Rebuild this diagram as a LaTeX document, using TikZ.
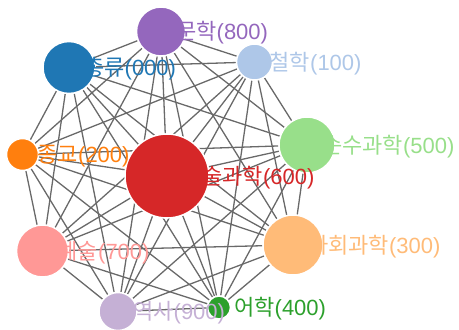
\documentclass[tikz,border=0pt]{standalone}
\usepackage{fontspec}
\setmainfont{Liberation Sans}
\newfontfamily\kr{Noto Sans CJK KR}
\usetikzlibrary{backgrounds}
\definecolor{c0}{HTML}{1F77B4}
\definecolor{c1}{HTML}{AEC7E8}
\definecolor{c2}{HTML}{FF7F0E}
\definecolor{c3}{HTML}{FFBB78}
\definecolor{c4}{HTML}{2CA02C}
\definecolor{c5}{HTML}{98DF8A}
\definecolor{c6}{HTML}{D62728}
\definecolor{c7}{HTML}{FF9896}
\definecolor{c8}{HTML}{9467BD}
\definecolor{c9}{HTML}{C5B0D5}
\definecolor{edgegray}{RGB}{105,105,105}
\begin{document}
\begin{tikzpicture}[x=1pt,y=-1pt,
  dot/.style={circle, draw=white, line width=1.5pt, inner sep=0pt, minimum size=#1},
  edge/.style={draw=edgegray, line width=1.3pt},
  lbl/.style={anchor=base west, inner sep=0pt, font=\fontsize{22}{26}\selectfont}]
\useasboundingbox (0,0) rectangle (459,330);
% nodes
\node[dot=52pt, fill=c0] (n0) at (69,67.5) {};
\node[dot=36pt, fill=c1] (n1) at (254.5,62) {};
\node[dot=32pt, fill=c2] (n2) at (22.5,154.5) {};
\node[dot=60pt, fill=c3] (n3) at (293,245) {};
\node[dot=23pt, fill=c4] (n4) at (219,307.5) {};
\node[dot=56pt, fill=c5] (n5) at (307,145) {};
\node[dot=84pt, fill=c6] (n6) at (167,176) {};
\node[dot=52pt, fill=c7] (n7) at (42.5,251) {};
\node[dot=49pt, fill=c8] (n8) at (161,31.5) {};
\node[dot=38pt, fill=c9] (n9) at (118,311.5) {};
% edges: complete graph
\begin{scope}[on background layer]
\foreach \i in {0,...,9}{
  \foreach \j in {0,...,9}{
    \ifnum\j>\i \draw[edge] (n\i) -- (n\j); \fi
  }
}
\end{scope}
% labels
\node[lbl, text=c0] (t0) at ([shift={(15,8)}]n0.center) {{\kr 총류}(000)};
\node[lbl, text=c1] (t1) at ([shift={(15,8)}]n1.center) {{\kr 철학}(100)};
\node[lbl, text=c2] (t2) at ([shift={(15,8)}]n2.center) {{\kr 종교}(200)};
\node[lbl, text=c3] (t3) at ([shift={(15,8)}]n3.center) {{\kr 사회과학}(300)};
\node[lbl, text=c4] (t4) at ([shift={(15,8)}]n4.center) {{\kr 어학}(400)};
\node[lbl, text=c5] (t5) at ([shift={(15,8)}]n5.center) {{\kr 순수과학}(500)};
\node[lbl, text=c6] (t6) at ([shift={(15,8)}]n6.center) {{\kr 기술과학}(600)};
\node[lbl, text=c7] (t7) at ([shift={(15,8)}]n7.center) {{\kr 예술}(700)};
\node[lbl, text=c8] (t8) at ([shift={(15,8)}]n8.center) {{\kr 문학}(800)};
\node[lbl, text=c9] (t9) at ([shift={(15,8)}]n9.center) {{\kr 역사}(900)};
\end{tikzpicture}
\end{document}
